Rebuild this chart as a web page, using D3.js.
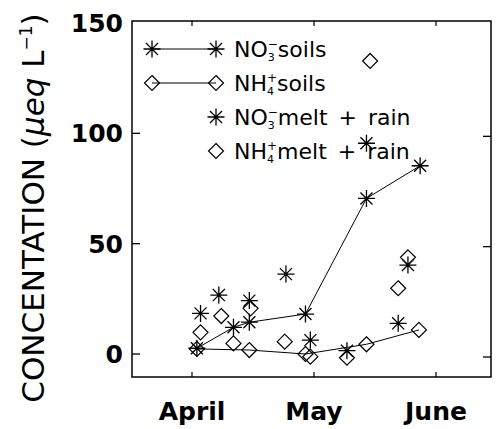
<!DOCTYPE html>
<html>
<head>
<meta charset="utf-8">
<script src="https://cdn.jsdelivr.net/npm/d3@7"></script>
<style>
  body { margin: 0; background: #fff; }
  text { font-family: "DejaVu Sans", sans-serif; fill: #000; }
</style>
</head>
<body>
<div id="graph"></div>
<script>
// months: tick position 0 = April, 1 = May, 2 = June
var monthLabels = ["April", "May", "June"];
var monthPos = [0, 1, 2];
var yTicks = [0, 50, 100, 150];

// soil samples (joined by lines)
var no3SoilX = [0.04, 0.34, 0.47, 0.93, 1.43, 1.87];
var no3SoilY = [2.6, 12.1, 14.4, 18.1, 70.5, 85.3];
var nh4SoilX = [0.04, 0.47, 0.93, 1.43, 1.86];
var nh4SoilY = [2.3, 1.8, 0, 4.4, 10.9];

// melt + rain samples (symbols only)
var no3MeltX = [0.07, 0.22, 0.47, 0.77, 0.97, 1.27, 1.43, 1.69, 1.77];
var no3MeltY = [18.4, 26.7, 24.2, 36.2, 6.3, 1.5, 95.5, 13.9, 40.3];
var nh4MeltX = [0.07, 0.24, 0.34, 0.48, 0.76, 0.97, 1.27, 1.46, 1.69, 1.77];
var nh4MeltY = [9.8, 17.2, 4.8, 20.7, 5.6, -1.2, -1.7, 132.8, 29.8, 43.8];

function zip(xs, ys) {
    return xs.map(function(x, i) { return {x: x, y: ys[i]}; });
}

function draw_function() {
    var W = 498, H = 429;
    var left = 132, right = 491, top = 21, bottom = 377;

    var svg = d3.select("#graph").append("svg")
        .attr("width", W).attr("height", H);

    var x = d3.scaleLinear().domain([0, 2]).range([192, 436]);
    var y = d3.scaleLinear().domain([0, 150]).range([354, 23]);

    // frame
    svg.append("rect")
        .attr("x", left).attr("y", top)
        .attr("width", right - left).attr("height", bottom - top)
        .attr("fill", "none").attr("stroke", "#000").attr("stroke-width", 1.5);

    // inward ticks: left/right for y, top/bottom for x
    var yt = yTicks.filter(function(d) { return d < 150; });
    svg.selectAll("line.yl").data(yt).enter().append("line")
        .attr("x1", left).attr("x2", left + 8)
        .attr("y1", function(d) { return y(d); }).attr("y2", function(d) { return y(d); })
        .attr("stroke", "#000").attr("stroke-width", 1.3);
    svg.selectAll("line.yr").data(yt).enter().append("line")
        .attr("x1", right).attr("x2", right - 8)
        .attr("y1", function(d) { return y(d) + 3; }).attr("y2", function(d) { return y(d) + 3; })
        .attr("stroke", "#000").attr("stroke-width", 1.3);
    svg.selectAll("line.xb").data(monthPos).enter().append("line")
        .attr("x1", function(d) { return x(d); }).attr("x2", function(d) { return x(d); })
        .attr("y1", bottom).attr("y2", bottom - 5)
        .attr("stroke", "#000").attr("stroke-width", 1.2);
    svg.selectAll("line.xt").data(monthPos).enter().append("line")
        .attr("x1", function(d) { return x(d); }).attr("x2", function(d) { return x(d); })
        .attr("y1", top).attr("y2", top + 5)
        .attr("stroke", "#000").attr("stroke-width", 1.2);

    // tick labels
    svg.selectAll("text.yl").data(yTicks).enter().append("text")
        .attr("x", 123)
        .attr("y", function(d) { return y(d) + 9; })
        .attr("text-anchor", "end")
        .style("font-size", "25px").style("font-weight", "bold")
        .text(function(d) { return d; });
    svg.selectAll("text.xl").data(monthPos).enter().append("text")
        .attr("x", function(d) { return x(d); })
        .attr("y", 420)
        .attr("text-anchor", "middle")
        .style("font-size", "25px").style("font-weight", "bold")
        .text(function(d, i) { return monthLabels[i]; });

    // y title
    var title = svg.append("text")
        .attr("transform", "translate(44,208) rotate(-90)")
        .attr("text-anchor", "middle")
        .style("font-size", "31px");
    title.append("tspan").text("CONCENTATION (");
    title.append("tspan").style("font-style", "italic").text("\u03bceq");
    title.append("tspan").text(" L");
    title.append("tspan").attr("dy", -12).style("font-size", "17px").text("\u22121");
    title.append("tspan").attr("dy", 12).text(")");

    // symbols
    function asterisk(g, r) {
        var p = d3.path();
        for (var k = 0; k < 4; k++) {
            var a = k * Math.PI / 4;
            p.moveTo(-r * Math.cos(a), -r * Math.sin(a));
            p.lineTo(r * Math.cos(a), r * Math.sin(a));
        }
        g.append("path").attr("d", p.toString())
            .attr("fill", "none").attr("stroke", "#000").attr("stroke-width", 1.3);
    }
    function diamond(g, r) {
        g.append("path").attr("d", "M0," + (-r) + "L" + r + ",0L0," + r + "L" + (-r) + ",0Z")
            .attr("fill", "none").attr("stroke", "#000").attr("stroke-width", 1.2);
    }
    function plotSymbols(data, kind) {
        svg.selectAll(null).data(data).enter().append("g")
            .attr("transform", function(d) { return "translate(" + x(d.x) + "," + y(d.y) + ")"; })
            .each(function() {
                if (kind === "ast") asterisk(d3.select(this), 8.5);
                else diamond(d3.select(this), 7.5);
            });
    }

    var line = d3.line().x(function(d) { return x(d.x); }).y(function(d) { return y(d.y); });

    var no3Soil = zip(no3SoilX, no3SoilY), nh4Soil = zip(nh4SoilX, nh4SoilY);
    svg.append("path").attr("d", line(no3Soil))
        .attr("fill", "none").attr("stroke", "#000").attr("stroke-width", 1);
    svg.append("path").attr("d", line(nh4Soil))
        .attr("fill", "none").attr("stroke", "#000").attr("stroke-width", 1);
    plotSymbols(no3Soil, "ast");
    plotSymbols(nh4Soil, "dia");
    plotSymbols(zip(no3MeltX, no3MeltY), "ast");
    plotSymbols(zip(nh4MeltX, nh4MeltY), "dia");

    // legend
    var rows = [
        {label: ["NO", "3", "\u2212", "soils"], kind: "ast", line: true},
        {label: ["NH", "4", "+", "soils"], kind: "dia", line: true},
        {label: ["NO", "3", "\u2212", "melt + rain"], kind: "ast", line: false},
        {label: ["NH", "4", "+", "melt + rain"], kind: "dia", line: false}
    ];
    var lx0 = 152, lx1 = 216, ly0 = 49, ldy = 34;
    rows.forEach(function(r, i) {
        var ry = ly0 + i * ldy;
        if (r.line) {
            svg.append("line").attr("x1", lx0).attr("x2", lx1).attr("y1", ry).attr("y2", ry)
                .attr("stroke", "#000").attr("stroke-width", 1);
            var g0 = svg.append("g").attr("transform", "translate(" + lx0 + "," + ry + ")");
            if (r.kind === "ast") asterisk(g0, 8.5); else diamond(g0, 7.5);
        }
        var g1 = svg.append("g").attr("transform", "translate(" + lx1 + "," + ry + ")");
        if (r.kind === "ast") asterisk(g1, 8.5); else diamond(g1, 7.5);

        var t = svg.append("text").attr("x", 234).attr("y", ry + 8)
            .style("font-size", "22px").style("word-spacing", "4px");
        t.append("tspan").text(r.label[0]);
        t.append("tspan").attr("dy", 4).style("font-size", "11px").text(r.label[1]);
        t.append("tspan").attr("dx", -7).attr("dy", -13).style("font-size", "12px").text(r.label[2]);
        t.append("tspan").attr("dy", 9).text(r.label[3]);
    });
}

window.onload = draw_function;
</script>
</body>
</html>
